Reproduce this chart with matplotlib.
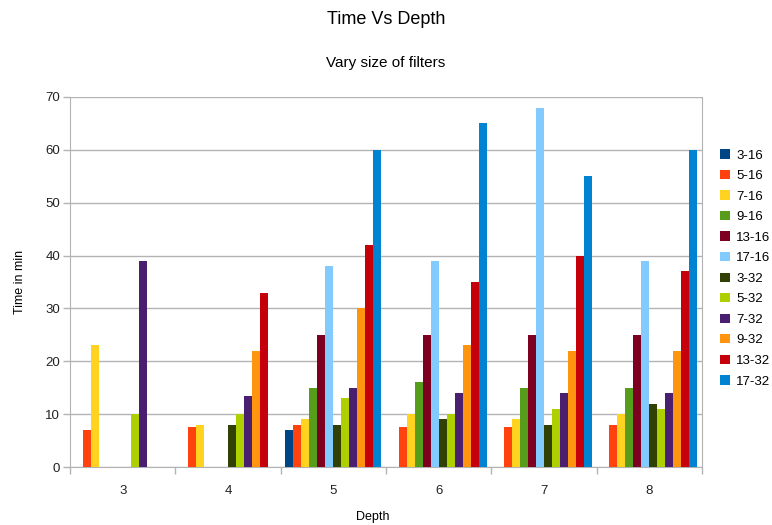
import numpy as np
import matplotlib.pyplot as plt

plt.rcParams['font.family'] = ['Liberation Sans', 'DejaVu Sans']

# Data: time in minutes per depth, one series per filter config
depths = ['3', '4', '5', '6', '7', '8']
series = ['3-16', '5-16', '7-16', '9-16', '13-16', '17-16',
          '3-32', '5-32', '7-32', '9-32', '13-32', '17-32']

t_3_16 = [0, 0, 7, 0, 0, 0]
t_5_16 = [7, 7.5, 8, 7.5, 7.5, 8]
t_7_16 = [23, 8, 9, 10, 9, 10]
t_9_16 = [0, 0, 15, 16, 15, 15]
t_13_16 = [0, 0, 25, 25, 25, 25]
t_17_16 = [0, 0, 38, 39, 68, 39]
t_3_32 = [0, 8, 8, 9, 8, 12]
t_5_32 = [10, 10, 13, 10, 11, 11]
t_7_32 = [39, 13.5, 15, 14, 14, 14]
t_9_32 = [0, 22, 30, 23, 22, 22]
t_13_32 = [0, 33, 42, 35, 40, 37]
t_17_32 = [0, 0, 60, 65, 55, 60]

values = [t_3_16, t_5_16, t_7_16, t_9_16, t_13_16, t_17_16,
          t_3_32, t_5_32, t_7_32, t_9_32, t_13_32, t_17_32]

colors = ['#004586', '#ff420e', '#ffd320', '#579d1c', '#7e0021', '#83caff',
          '#314004', '#aecf00', '#4b1f6f', '#ff950e', '#c5000b', '#0084d1']

fig = plt.figure(figsize=(7.72, 5.25), dpi=100)
ax = fig.add_axes([70 / 772, 1 - 467 / 525, 632 / 772, 370 / 525])

x = np.arange(len(depths))
width = 0.0762
offset0 = -width * (len(series) - 1) / 2
handles = []
for i, (name, vals) in enumerate(zip(series, values)):
    b = ax.bar(x + offset0 + i * width, vals, width, color=colors[i], label=name, zorder=3)
    handles.append(b)

ax.set_xlim(-0.5, len(depths) - 0.5)
ax.set_ylim(0, 70)
ax.set_yticks(range(0, 71, 10))
ax.yaxis.grid(True, color='#b3b3b3', linewidth=1, zorder=0)

ax.set_xticks(x)
ax.set_xticklabels(depths)
ax.set_xticks(np.arange(-0.5, len(depths), 1), minor=True)
ax.tick_params(axis='x', which='major', length=0, pad=13, labelsize=9.5, colors='#222222')
ax.tick_params(axis='x', which='minor', length=5, color='#b3b3b3', width=1)
ax.tick_params(axis='y', length=5, color='#b3b3b3', width=1, labelsize=9.5, colors='#222222', pad=2)

for s in ['left', 'right', 'bottom']:
    ax.spines[s].set_color('#b3b3b3')
ax.spines['top'].set_visible(False)

ax.set_ylabel('Time in min', fontsize=9, labelpad=14)
fig.text(373 / 772, 1 - 517 / 525, 'Depth', ha='center', va='center', fontsize=9)

fig.text(386 / 772, 1 - 20 / 525, 'Time Vs Depth', ha='center', va='center', fontsize=13)
fig.text(386 / 772, 1 - 63 / 525, 'Vary size of filters', ha='center', va='center', fontsize=11)

fig.legend(handles, series, loc='upper left', bbox_to_anchor=(715 / 772, 1 - 144 / 525),
           frameon=False, fontsize=9.5, handlelength=0.7, handleheight=0.7,
           handletextpad=0.5, labelspacing=0.63, borderaxespad=0)

fig.savefig('out.png', dpi=100)
